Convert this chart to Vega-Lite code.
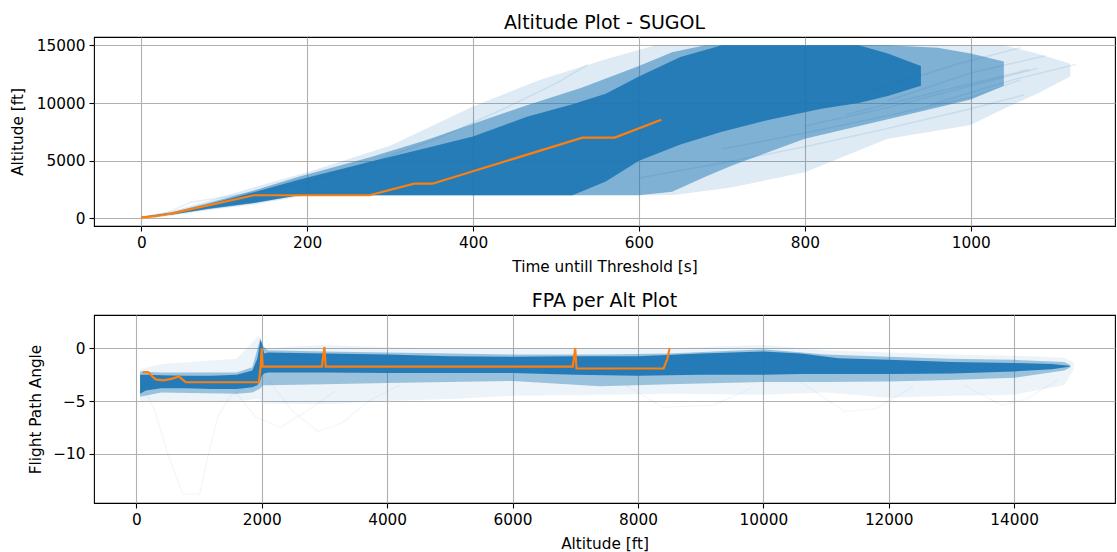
{
  "$schema": "https://vega.github.io/schema/vega-lite/v6.json",
  "autosize": {"type": "pad"},
  "padding": {"left": 9, "top": 13, "right": 0, "bottom": 0},
  "background": "white",
  "bounds": "flush",
  "spacing": 89,
  "config": {
    "font": "DejaVu Sans",
    "view": {"stroke": "black", "strokeWidth": 1.1},
    "axis": {
      "domain": false,
      "grid": true,
      "gridColor": "#b0b0b0",
      "gridWidth": 1.1,
      "ticks": true,
      "tickColor": "black",
      "tickSize": 5,
      "tickWidth": 1.1,
      "labelFont": "DejaVu Sans",
      "labelFontSize": 15.3,
      "labelColor": "black",
      "labelPadding": 4,
      "titleFont": "DejaVu Sans",
      "titleFontSize": 15.3,
      "titleFontWeight": "normal",
      "titleColor": "black"
    },
    "axisX": {"titleBaseline": "alphabetic", "titleY": 45},
    "axisY": {"titleAngle": 270, "titleAlign": "center", "titleBaseline": "middle"},
    "title": {"font": "DejaVu Sans", "fontSize": 19, "fontWeight": "normal", "color": "black", "baseline": "alphabetic", "offset": 4}
  },
  "datasets": {
    "topBands": [
      {"band": "core", "t": 0, "lo": 60, "hi": 110},
      {"band": "core", "t": 37, "lo": 330, "hi": 480},
      {"band": "core", "t": 80, "lo": 830, "hi": 1200},
      {"band": "core", "t": 136, "lo": 1350, "hi": 2250},
      {"band": "core", "t": 190, "lo": 2000, "hi": 3350},
      {"band": "core", "t": 276, "lo": 2000, "hi": 4900},
      {"band": "core", "t": 344, "lo": 2000, "hi": 6100},
      {"band": "core", "t": 400, "lo": 2000, "hi": 7100},
      {"band": "core", "t": 465, "lo": 2000, "hi": 8800},
      {"band": "core", "t": 520, "lo": 2000, "hi": 9900},
      {"band": "core", "t": 560, "lo": 3200, "hi": 10800},
      {"band": "core", "t": 600, "lo": 5000, "hi": 12300},
      {"band": "core", "t": 650, "lo": 6400, "hi": 14000},
      {"band": "core", "t": 700, "lo": 7500, "hi": 15000},
      {"band": "core", "t": 760, "lo": 8600, "hi": 15000},
      {"band": "core", "t": 820, "lo": 9500, "hi": 15000},
      {"band": "core", "t": 865, "lo": 10000, "hi": 15000},
      {"band": "core", "t": 900, "lo": 10600, "hi": 14300},
      {"band": "core", "t": 940, "lo": 11500, "hi": 13200},
      {"band": "mid", "t": 0, "lo": 40, "hi": 130},
      {"band": "mid", "t": 37, "lo": 300, "hi": 520},
      {"band": "mid", "t": 80, "lo": 780, "hi": 1300},
      {"band": "mid", "t": 136, "lo": 1300, "hi": 2400},
      {"band": "mid", "t": 190, "lo": 2000, "hi": 3600},
      {"band": "mid", "t": 276, "lo": 2000, "hi": 5300},
      {"band": "mid", "t": 344, "lo": 2000, "hi": 6800},
      {"band": "mid", "t": 400, "lo": 2000, "hi": 8200},
      {"band": "mid", "t": 465, "lo": 2000, "hi": 9800},
      {"band": "mid", "t": 530, "lo": 2000, "hi": 11300},
      {"band": "mid", "t": 600, "lo": 2000, "hi": 13200},
      {"band": "mid", "t": 640, "lo": 2300, "hi": 14400},
      {"band": "mid", "t": 680, "lo": 3600, "hi": 15000},
      {"band": "mid", "t": 713, "lo": 4600, "hi": 15000},
      {"band": "mid", "t": 800, "lo": 6900, "hi": 15000},
      {"band": "mid", "t": 900, "lo": 8600, "hi": 15000},
      {"band": "mid", "t": 960, "lo": 9600, "hi": 14800},
      {"band": "mid", "t": 1000, "lo": 10300, "hi": 14300},
      {"band": "mid", "t": 1040, "lo": 11500, "hi": 13600},
      {"band": "outer", "t": 0, "lo": 0, "hi": 150},
      {"band": "outer", "t": 37, "lo": 250, "hi": 600},
      {"band": "outer", "t": 80, "lo": 700, "hi": 1500},
      {"band": "outer", "t": 136, "lo": 1200, "hi": 2700},
      {"band": "outer", "t": 200, "lo": 2000, "hi": 4000},
      {"band": "outer", "t": 300, "lo": 2000, "hi": 6300},
      {"band": "outer", "t": 400, "lo": 2000, "hi": 9700},
      {"band": "outer", "t": 480, "lo": 2000, "hi": 12000},
      {"band": "outer", "t": 560, "lo": 2000, "hi": 13800},
      {"band": "outer", "t": 620, "lo": 2000, "hi": 15000},
      {"band": "outer", "t": 645, "lo": 2050, "hi": 15000},
      {"band": "outer", "t": 713, "lo": 2700, "hi": 15000},
      {"band": "outer", "t": 800, "lo": 4000, "hi": 15000},
      {"band": "outer", "t": 900, "lo": 6900, "hi": 15000},
      {"band": "outer", "t": 1000, "lo": 8100, "hi": 15000},
      {"band": "outer", "t": 1040, "lo": 9500, "hi": 15000},
      {"band": "outer", "t": 1080, "lo": 10800, "hi": 14300},
      {"band": "outer", "t": 1120, "lo": 12300, "hi": 13400}
    ],
    "topLines": [
      {"id": 1, "t": 0, "alt": 80}, {"id": 1, "t": 30, "alt": 450}, {"id": 1, "t": 60, "alt": 1400}, {"id": 1, "t": 140, "alt": 2300}, {"id": 1, "t": 200, "alt": 3100}, {"id": 1, "t": 280, "alt": 4900}, {"id": 1, "t": 360, "alt": 7000}, {"id": 1, "t": 440, "alt": 9600}, {"id": 1, "t": 500, "alt": 11700}, {"id": 1, "t": 538, "alt": 13300},
      {"id": 2, "t": 950, "alt": 9800}, {"id": 2, "t": 1050, "alt": 12000}, {"id": 2, "t": 1127, "alt": 13350},
      {"id": 3, "t": 900, "alt": 10200}, {"id": 3, "t": 1000, "alt": 12600}, {"id": 3, "t": 1090, "alt": 14100},
      {"id": 4, "t": 880, "alt": 11000}, {"id": 4, "t": 980, "alt": 13300}, {"id": 4, "t": 1060, "alt": 14800},
      {"id": 5, "t": 850, "alt": 9000}, {"id": 5, "t": 950, "alt": 10800}, {"id": 5, "t": 1070, "alt": 12900},
      {"id": 6, "t": 800, "alt": 8000}, {"id": 6, "t": 900, "alt": 9600}, {"id": 6, "t": 1000, "alt": 11500}, {"id": 6, "t": 1080, "alt": 13000},
      {"id": 7, "t": 700, "alt": 6000}, {"id": 7, "t": 800, "alt": 7400}, {"id": 7, "t": 900, "alt": 8900}, {"id": 7, "t": 1000, "alt": 10500}, {"id": 7, "t": 1060, "alt": 12000},
      {"id": 8, "t": 600, "alt": 3500}, {"id": 8, "t": 700, "alt": 4800}, {"id": 8, "t": 800, "alt": 6200}, {"id": 8, "t": 900, "alt": 7800}, {"id": 8, "t": 1000, "alt": 9500}, {"id": 8, "t": 1064, "alt": 10700}
    ],
    "topOrange": [
      {"t": 0, "alt": 80}, {"t": 18, "alt": 180}, {"t": 37, "alt": 430}, {"t": 136, "alt": 2000}, {"t": 275, "alt": 2000}, {"t": 329, "alt": 3000}, {"t": 351, "alt": 3000}, {"t": 532, "alt": 7000}, {"t": 571, "alt": 7000}, {"t": 627, "alt": 8550}
    ],
    "botBands": [
      {"band": "core", "alt": 60, "lo": -4.3, "hi": -2.5},
      {"band": "core", "alt": 150, "lo": -4.0, "hi": -2.5},
      {"band": "core", "alt": 400, "lo": -3.8, "hi": -2.55},
      {"band": "core", "alt": 800, "lo": -3.8, "hi": -2.6},
      {"band": "core", "alt": 1200, "lo": -3.85, "hi": -2.6},
      {"band": "core", "alt": 1600, "lo": -3.85, "hi": -2.5},
      {"band": "core", "alt": 1850, "lo": -3.7, "hi": -2.1},
      {"band": "core", "alt": 1930, "lo": -3.5, "hi": -1.0},
      {"band": "core", "alt": 1980, "lo": -3.0, "hi": 0.8},
      {"band": "core", "alt": 2000, "lo": -2.6, "hi": 0.5},
      {"band": "core", "alt": 2040, "lo": -2.4, "hi": -0.5},
      {"band": "core", "alt": 2100, "lo": -2.3, "hi": -0.4},
      {"band": "core", "alt": 3000, "lo": -2.3, "hi": -0.5},
      {"band": "core", "alt": 4000, "lo": -2.35, "hi": -0.6},
      {"band": "core", "alt": 5000, "lo": -2.35, "hi": -0.75},
      {"band": "core", "alt": 6000, "lo": -2.35, "hi": -0.8},
      {"band": "core", "alt": 7000, "lo": -2.5, "hi": -0.75},
      {"band": "core", "alt": 8000, "lo": -2.6, "hi": -0.75},
      {"band": "core", "alt": 9000, "lo": -2.5, "hi": -0.5},
      {"band": "core", "alt": 10000, "lo": -2.5, "hi": -0.3},
      {"band": "core", "alt": 10600, "lo": -2.45, "hi": -0.5},
      {"band": "core", "alt": 11200, "lo": -2.45, "hi": -0.95},
      {"band": "core", "alt": 12000, "lo": -2.45, "hi": -1.1},
      {"band": "core", "alt": 13000, "lo": -2.4, "hi": -1.3},
      {"band": "core", "alt": 14000, "lo": -2.2, "hi": -1.4},
      {"band": "core", "alt": 14600, "lo": -2.0, "hi": -1.5},
      {"band": "core", "alt": 14880, "lo": -1.75, "hi": -1.65},
      {"band": "mid", "alt": 60, "lo": -4.6, "hi": -2.2},
      {"band": "mid", "alt": 400, "lo": -4.2, "hi": -2.3},
      {"band": "mid", "alt": 1600, "lo": -4.3, "hi": -2.3},
      {"band": "mid", "alt": 1850, "lo": -4.2, "hi": -1.8},
      {"band": "mid", "alt": 1980, "lo": -3.8, "hi": 1.0},
      {"band": "mid", "alt": 2020, "lo": -3.5, "hi": 0.2},
      {"band": "mid", "alt": 2100, "lo": -3.5, "hi": -0.2},
      {"band": "mid", "alt": 3000, "lo": -3.4, "hi": -0.3},
      {"band": "mid", "alt": 4000, "lo": -3.3, "hi": -0.4},
      {"band": "mid", "alt": 5000, "lo": -3.2, "hi": -0.5},
      {"band": "mid", "alt": 6000, "lo": -3.1, "hi": -0.6},
      {"band": "mid", "alt": 7400, "lo": -3.6, "hi": -0.6},
      {"band": "mid", "alt": 8500, "lo": -3.4, "hi": -0.5},
      {"band": "mid", "alt": 10000, "lo": -3.2, "hi": -0.1},
      {"band": "mid", "alt": 11000, "lo": -3.2, "hi": -0.6},
      {"band": "mid", "alt": 12000, "lo": -3.15, "hi": -0.8},
      {"band": "mid", "alt": 13000, "lo": -3.0, "hi": -1.0},
      {"band": "mid", "alt": 14000, "lo": -2.8, "hi": -1.1},
      {"band": "mid", "alt": 14800, "lo": -2.1, "hi": -1.3},
      {"band": "mid", "alt": 14900, "lo": -1.8, "hi": -1.6},
      {"band": "outer", "alt": 60, "lo": -5.0, "hi": -2.0},
      {"band": "outer", "alt": 400, "lo": -5.0, "hi": -1.5},
      {"band": "outer", "alt": 1600, "lo": -5.0, "hi": -1.0},
      {"band": "outer", "alt": 1950, "lo": -4.8, "hi": 1.2},
      {"band": "outer", "alt": 2050, "lo": -5.2, "hi": 0.0},
      {"band": "outer", "alt": 3000, "lo": -5.3, "hi": 0.3},
      {"band": "outer", "alt": 4000, "lo": -5.0, "hi": 0.1},
      {"band": "outer", "alt": 5000, "lo": -4.8, "hi": 0.0},
      {"band": "outer", "alt": 6000, "lo": -4.5, "hi": 0.0},
      {"band": "outer", "alt": 7400, "lo": -4.4, "hi": 0.0},
      {"band": "outer", "alt": 8500, "lo": -4.3, "hi": 0.0},
      {"band": "outer", "alt": 10000, "lo": -4.4, "hi": 0.3},
      {"band": "outer", "alt": 11000, "lo": -4.2, "hi": -0.2},
      {"band": "outer", "alt": 12000, "lo": -4.7, "hi": -0.4},
      {"band": "outer", "alt": 13000, "lo": -4.5, "hi": -0.6},
      {"band": "outer", "alt": 14000, "lo": -4.4, "hi": -0.7},
      {"band": "outer", "alt": 14800, "lo": -3.5, "hi": -0.9},
      {"band": "outer", "alt": 14950, "lo": -2.0, "hi": -1.3}
    ],
    "botLines": [
      {"id": 1, "alt": 150, "fpa": -4.0}, {"id": 1, "alt": 300, "fpa": -6.0}, {"id": 1, "alt": 500, "fpa": -10.0}, {"id": 1, "alt": 740, "fpa": -13.8}, {"id": 1, "alt": 1010, "fpa": -13.8}, {"id": 1, "alt": 1150, "fpa": -10.0}, {"id": 1, "alt": 1300, "fpa": -6.5}, {"id": 1, "alt": 1500, "fpa": -4.5}, {"id": 1, "alt": 1800, "fpa": -3.5},
      {"id": 2, "alt": 2100, "fpa": -3.0}, {"id": 2, "alt": 2500, "fpa": -6.0}, {"id": 2, "alt": 2900, "fpa": -7.9}, {"id": 2, "alt": 3300, "fpa": -7.0}, {"id": 2, "alt": 3700, "fpa": -5.0}, {"id": 2, "alt": 4200, "fpa": -3.5},
      {"id": 3, "alt": 1500, "fpa": -3.5}, {"id": 3, "alt": 1900, "fpa": -6.5}, {"id": 3, "alt": 2300, "fpa": -7.5}, {"id": 3, "alt": 2700, "fpa": -6.0}, {"id": 3, "alt": 3200, "fpa": -4.0},
      {"id": 4, "alt": 7800, "fpa": -3.5}, {"id": 4, "alt": 8400, "fpa": -5.6}, {"id": 4, "alt": 9200, "fpa": -5.4}, {"id": 4, "alt": 9800, "fpa": -3.8},
      {"id": 5, "alt": 10600, "fpa": -3.2}, {"id": 5, "alt": 11300, "fpa": -6.0}, {"id": 5, "alt": 11800, "fpa": -5.7}, {"id": 5, "alt": 12400, "fpa": -3.6},
      {"id": 6, "alt": 13200, "fpa": -3.5}, {"id": 6, "alt": 13800, "fpa": -5.4}, {"id": 6, "alt": 14200, "fpa": -4.8}, {"id": 6, "alt": 14700, "fpa": -3.0}
    ],
    "botOrange": [
      {"alt": 100, "fpa": -2.27}, {"alt": 190, "fpa": -2.27}, {"alt": 260, "fpa": -2.7}, {"alt": 310, "fpa": -2.95}, {"alt": 430, "fpa": -3.05}, {"alt": 560, "fpa": -2.9}, {"alt": 680, "fpa": -2.68}, {"alt": 790, "fpa": -3.22}, {"alt": 1955, "fpa": -3.22}, {"alt": 1985, "fpa": -1.6}, {"alt": 2000, "fpa": 0.0}, {"alt": 2015, "fpa": -1.74}, {"alt": 2960, "fpa": -1.74}, {"alt": 3000, "fpa": 0.1}, {"alt": 3020, "fpa": -1.74}, {"alt": 6960, "fpa": -1.74}, {"alt": 7000, "fpa": 0.0}, {"alt": 7020, "fpa": -1.92}, {"alt": 8410, "fpa": -1.92}, {"alt": 8470, "fpa": -1.0}, {"alt": 8505, "fpa": 0.0}
    ]
  },
  "vconcat": [
    {
      "width": 1021,
      "height": 189,
      "title": {"text": "Altitude Plot - SUGOL"},
      "encoding": {
        "x": {"type": "quantitative", "scale": {"domain": [-57, 1174], "nice": false, "zero": false},
              "axis": {"title": "Time untill Threshold [s]", "values": [0, 200, 400, 600, 800, 1000], "format": "d"}},
        "y": {"type": "quantitative", "scale": {"domain": [-669, 15725], "nice": false, "zero": false},
              "axis": {"title": "Altitude [ft]", "values": [0, 5000, 10000, 15000], "format": "d", "titleX": -77, "titleY": 94.5}}
      },
      "layer": [
        {
          "data": {"name": "topBands"},
          "transform": [{"filter": "datum.band === 'outer'"}],
          "mark": {"type": "area", "color": "#1f77b4", "opacity": 0.15, "clip": true},
          "encoding": {"x": {"field": "t"}, "y": {"field": "lo"}, "y2": {"field": "hi"}}
        },
        {
          "data": {"name": "topBands"},
          "transform": [{"filter": "datum.band === 'mid'"}],
          "mark": {"type": "area", "color": "#1f77b4", "opacity": 0.5, "clip": true},
          "encoding": {"x": {"field": "t"}, "y": {"field": "lo"}, "y2": {"field": "hi"}}
        },
        {
          "data": {"name": "topBands"},
          "transform": [{"filter": "datum.band === 'core'"}],
          "mark": {"type": "area", "color": "#1f77b4", "opacity": 0.93, "clip": true},
          "encoding": {"x": {"field": "t"}, "y": {"field": "lo"}, "y2": {"field": "hi"}}
        },
        {
          "data": {"name": "topLines"},
          "mark": {"type": "line", "color": "#1f77b4", "opacity": 0.12, "strokeWidth": 1.5, "clip": true},
          "encoding": {
            "x": {"field": "t"},
            "y": {"field": "alt"},
            "detail": {"field": "id", "type": "nominal"}
          }
        },
        {
          "data": {"name": "topOrange"},
          "mark": {"type": "line", "color": "#ff7f0e", "strokeWidth": 2.2, "clip": true},
          "encoding": {"x": {"field": "t"}, "y": {"field": "alt"}}
        }
      ]
    },
    {
      "width": 1021,
      "height": 188,
      "title": {"text": "FPA per Alt Plot"},
      "encoding": {
        "x": {"type": "quantitative", "scale": {"domain": [-675, 15609], "nice": false, "zero": false},
              "axis": {"title": "Altitude [ft]", "values": [0, 2000, 4000, 6000, 8000, 10000, 12000, 14000], "format": "d"}},
        "y": {"type": "quantitative", "scale": {"domain": [-14.66, 3.15], "nice": false, "zero": false},
              "axis": {"title": "Flight Path Angle", "values": [-10, -5, 0], "format": "d", "titleX": -59, "titleY": 94}}
      },
      "layer": [
        {
          "data": {"name": "botBands"},
          "transform": [{"filter": "datum.band === 'outer'"}],
          "mark": {"type": "area", "color": "#1f77b4", "opacity": 0.08, "clip": true},
          "encoding": {"x": {"field": "alt"}, "y": {"field": "lo"}, "y2": {"field": "hi"}}
        },
        {
          "data": {"name": "botBands"},
          "transform": [{"filter": "datum.band === 'mid'"}],
          "mark": {"type": "area", "color": "#1f77b4", "opacity": 0.4, "clip": true},
          "encoding": {"x": {"field": "alt"}, "y": {"field": "lo"}, "y2": {"field": "hi"}}
        },
        {
          "data": {"name": "botBands"},
          "transform": [{"filter": "datum.band === 'core'"}],
          "mark": {"type": "area", "color": "#1f77b4", "opacity": 0.95, "clip": true},
          "encoding": {"x": {"field": "alt"}, "y": {"field": "lo"}, "y2": {"field": "hi"}}
        },
        {
          "data": {"name": "botLines"},
          "mark": {"type": "line", "color": "#1f77b4", "opacity": 0.05, "strokeWidth": 1.5, "clip": true},
          "encoding": {
            "x": {"field": "alt"},
            "y": {"field": "fpa"},
            "detail": {"field": "id", "type": "nominal"}
          }
        },
        {
          "data": {"name": "botOrange"},
          "mark": {"type": "line", "color": "#ff7f0e", "strokeWidth": 2.2, "clip": true},
          "encoding": {"x": {"field": "alt"}, "y": {"field": "fpa"}}
        }
      ]
    }
  ]
}
